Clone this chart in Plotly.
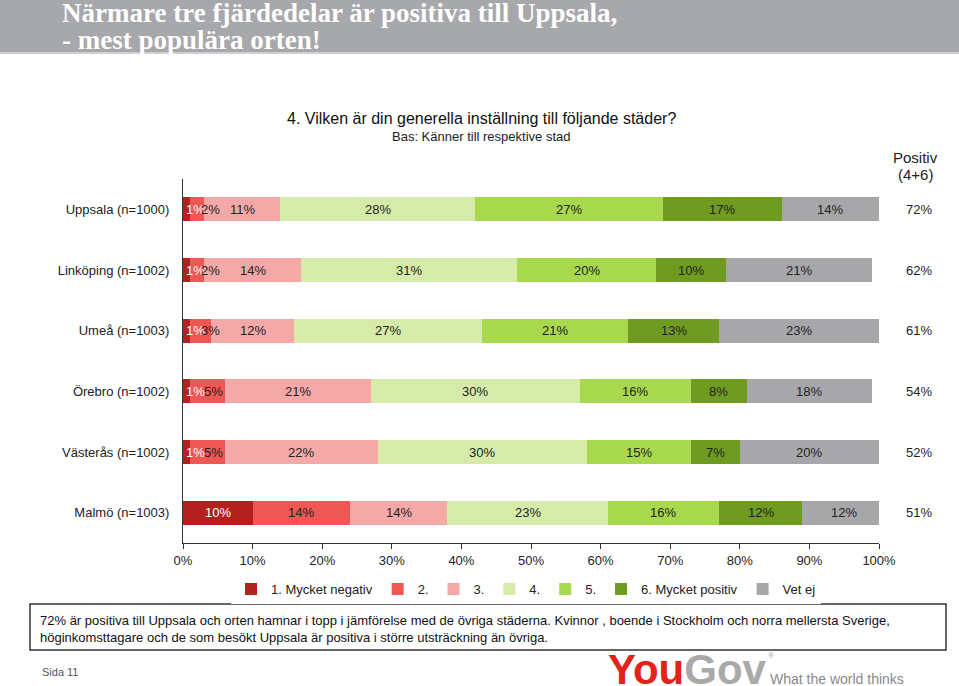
import plotly.graph_objects as go

cities = ["Uppsala (n=1000)", "Linköping (n=1002)", "Umeå (n=1003)",
          "Örebro (n=1002)", "Västerås (n=1002)", "Malmö (n=1003)"]
series_names = ["1. Mycket negativ", "2.", "3.", "4.", "5.", "6. Mycket positiv", "Vet ej"]
s1 = [1, 1, 1, 1, 1, 10]
s2 = [2, 2, 3, 5, 5, 14]
s3 = [11, 14, 12, 21, 22, 14]
s4 = [28, 31, 27, 30, 30, 23]
s5 = [27, 20, 21, 16, 15, 16]
s6 = [17, 10, 13, 8, 7, 12]
s7 = [14, 21, 23, 18, 20, 12]
positiv = [72, 62, 61, 54, 52, 51]
xticks = [0, 10, 20, 30, 40, 50, 60, 70, 80, 90, 100]

series = [s1, s2, s3, s4, s5, s6, s7]
colors = ["#B3211F", "#EE5754", "#F5A8A8", "#D6EBAA", "#A8D84D", "#6E9B20", "#A7A7AA"]
text_colors = ["white", "#222", "#222", "#222", "#222", "#222", "#222"]

L, R, T, B = 183, 80, 179, 143
W, H = 959, 686
PW = W - L - R
PH = H - T - B
def px(x):
    return (x - L) / PW
def py(y):
    return (H - B - y) / PH

fig = go.Figure()
for name, vals, col in zip(series_names, series, colors):
    fig.add_trace(go.Bar(
        y=cities, x=vals, name=name, orientation="h",
        marker=dict(color=col, line=dict(width=0)),
        hoverinfo="x+name",
    ))

ann = []
FONT = "Liberation Sans, Arial, sans-serif"
for ci, city in enumerate(cities):
    cum = 0
    for si, vals in enumerate(series):
        v = vals[ci]
        a = dict(x=cum + v / 2, y=city, xref="x", yref="y", text=f"{v}%",
                 showarrow=False, font=dict(size=13, color=text_colors[si], family=FONT),
                 xanchor="center")
        if si == 0 and v < 3:
            a.update(x=0, xanchor="left", xshift=1)
        elif si == 1 and v < 6 and series[0][ci] < 3:
            a.update(x=cum, xanchor="left", xshift=9 if v < 4 else 12)
        ann.append(a)
        cum += v
    ann.append(dict(x=px(919), y=city, xref="paper", yref="y", text=f"{positiv[ci]}%",
                    xanchor="center", yanchor="middle",
                    showarrow=False, font=dict(size=13, color="#222", family=FONT)))

SERIF = "Liberation Serif, Times New Roman, serif"
ann += [
    dict(x=px(60), y=py(13), xref="paper", yref="paper", xanchor="left", yanchor="middle",
         text="<b>Närmare tre fjärdedelar är positiva till Uppsala,</b>", showarrow=False,
         font=dict(size=27, color="white", family=SERIF)),
    dict(x=px(60), y=py(40), xref="paper", yref="paper", xanchor="left", yanchor="middle",
         text="<b>- mest populära orten!</b>", showarrow=False,
         font=dict(size=27, color="white", family=SERIF)),
    dict(x=px(481), y=py(119), xref="paper", yref="paper", xanchor="center", yanchor="middle",
         text="4. Vilken är din generella inställning till följande städer?", showarrow=False,
         font=dict(size=16, color="#111", family=FONT)),
    dict(x=px(481), y=py(136), xref="paper", yref="paper", xanchor="center", yanchor="middle",
         text="Bas: Känner till respektive stad", showarrow=False,
         font=dict(size=13, color="#222", family=FONT)),
    dict(x=px(915), y=py(157), xref="paper", yref="paper", xanchor="center", yanchor="middle",
         text="Positiv", showarrow=False,
         font=dict(size=15, color="#222", family=FONT)),
    dict(x=px(915), y=py(174), xref="paper", yref="paper", xanchor="center", yanchor="middle",
         text="(4+6)", showarrow=False,
         font=dict(size=15, color="#222", family=FONT)),
    dict(x=px(38), y=py(611), xref="paper", yref="paper", xanchor="left", yanchor="top",
         text="72% är positiva till Uppsala och orten hamnar i topp i jämförelse med de övriga städerna. Kvinnor , boende i Stockholm och norra mellersta Sverige,<br>höginkomsttagare och de som besökt Uppsala är positiva i större utsträckning än övriga.",
         showarrow=False, align="left",
         font=dict(size=13, color="#111", family=FONT)),
    dict(x=px(40), y=py(672), xref="paper", yref="paper", xanchor="left", yanchor="middle",
         text="Sida 11", showarrow=False, font=dict(size=11, color="#555", family=FONT)),
    dict(x=px(606), y=py(669), xref="paper", yref="paper", xanchor="left", yanchor="middle",
         text="<b><span style='color:#E2231A'>You</span><span style='color:#A9A9A9'>Gov</span></b>",
         showarrow=False,
         font=dict(size=42, family="Liberation Sans Narrow, Arial Narrow, sans-serif")),
    dict(x=px(766), y=py(655), xref="paper", yref="paper", xanchor="left", yanchor="middle",
         text="®", showarrow=False, font=dict(size=8, color="#A9A9A9", family=FONT)),
    dict(x=px(768), y=py(679), xref="paper", yref="paper", xanchor="left", yanchor="middle",
         text="What the world thinks", showarrow=False,
         font=dict(size=14, color="#8A8A8A", family=FONT)),
]

shapes = [
    dict(type="rect", xref="paper", yref="paper", x0=px(0), x1=px(W), y0=py(52), y1=py(0),
         fillcolor="#A7A8AB", line=dict(width=0), layer="below"),
    dict(type="line", xref="paper", yref="paper", x0=px(0), x1=px(W), y0=py(53), y1=py(53),
         line=dict(color="#D0D0D2", width=2)),
    dict(type="rect", xref="paper", yref="paper", x0=px(30), x1=px(946), y0=py(650), y1=py(604),
         fillcolor="rgba(0,0,0,0)", line=dict(color="#333", width=1.5)),
]

fig.update_layout(
    width=W, height=H,
    margin=dict(l=L, r=R, t=T, b=B),
    barmode="stack", bargap=0.6,
    plot_bgcolor="white", paper_bgcolor="white",
    font=dict(family=FONT, size=13, color="#222"),
    annotations=ann, shapes=shapes,
    legend=dict(orientation="h", x=px(526), y=py(589), xanchor="center", yanchor="middle",
                font=dict(size=13, color="#222", family=FONT), traceorder="normal",
                itemwidth=30, tracegroupgap=0),
    xaxis=dict(range=[0, 100], tickvals=xticks, ticktext=[f"{t}%" for t in xticks],
               showgrid=False, zeroline=False, showline=True, linecolor="#333", linewidth=1,
               ticks="outside", ticklen=5, tickcolor="#333",
               tickfont=dict(size=13, color="#222", family=FONT)),
    yaxis=dict(categoryorder="array", categoryarray=cities, autorange="reversed",
               showgrid=False, zeroline=False, showline=True, linecolor="#333", linewidth=1,
               ticks="", ticklabelstandoff=10,
               tickfont=dict(size=13, color="#222", family=FONT)),
    showlegend=True,
)

fig.write_html("out.html", config={"displayModeBar": False},
               post_script="document.body.style.margin='0';document.body.style.overflow='hidden';")
